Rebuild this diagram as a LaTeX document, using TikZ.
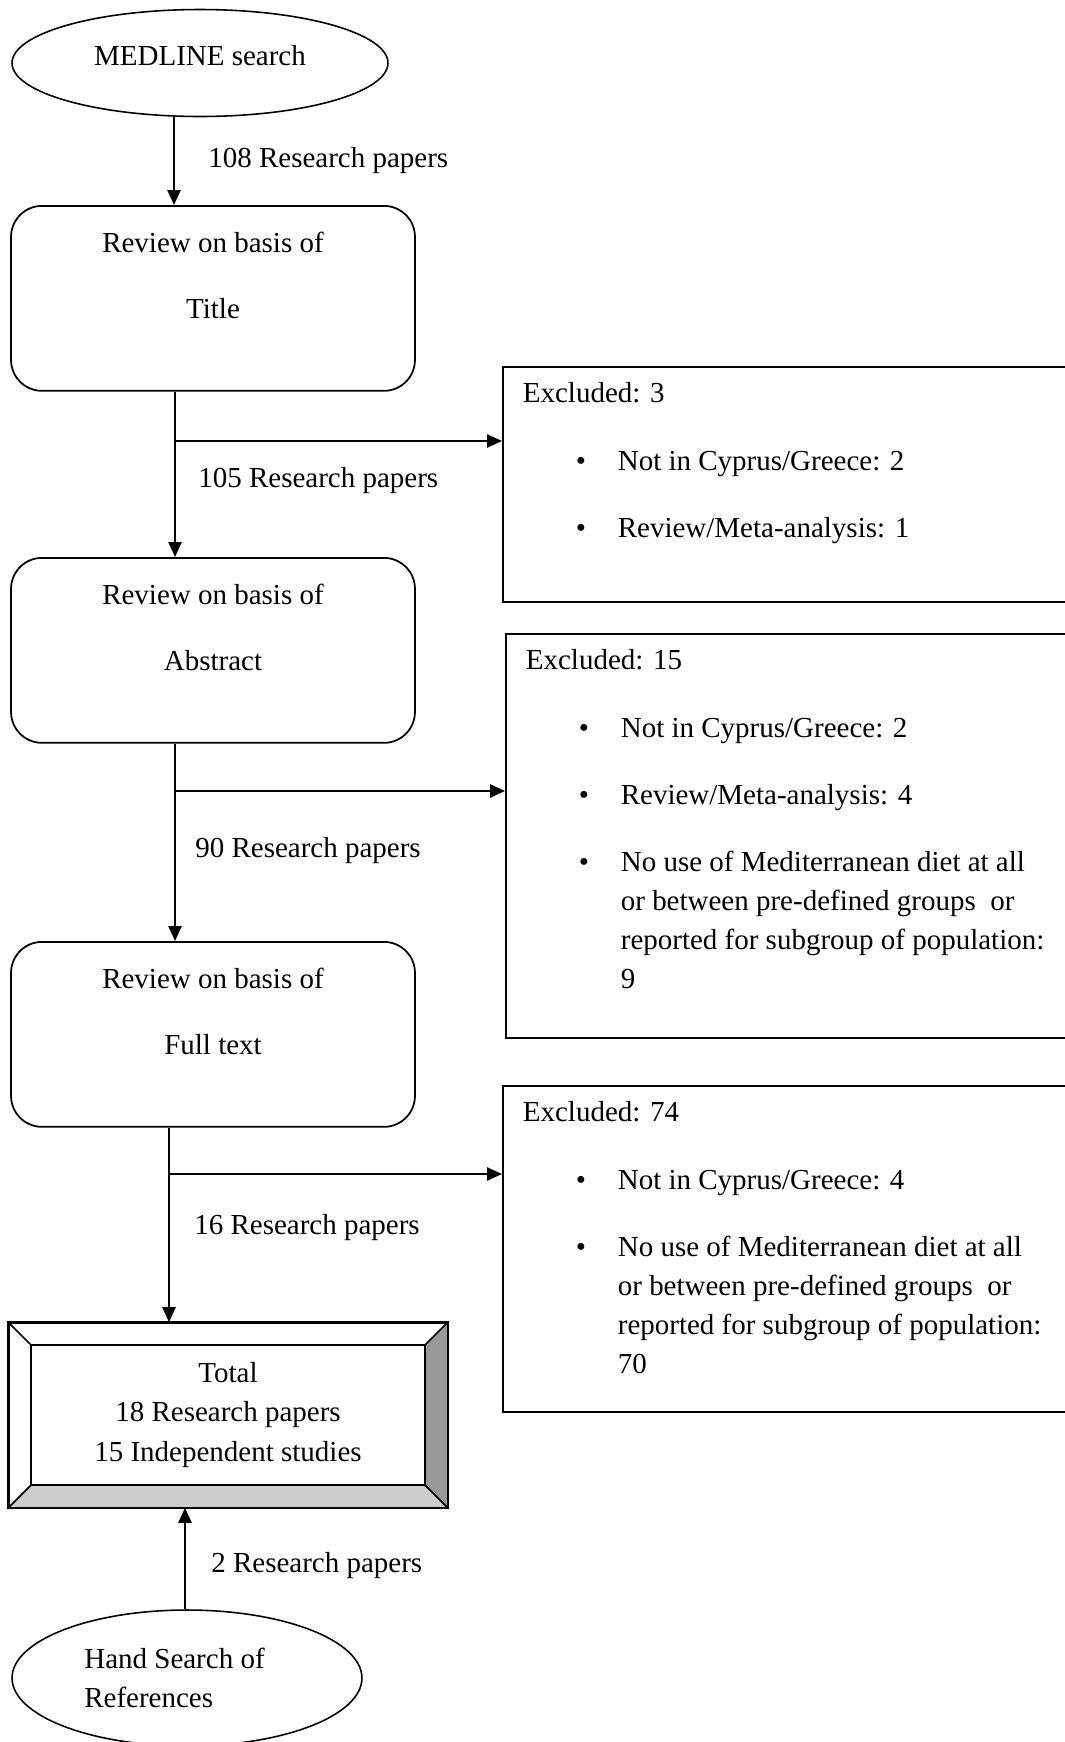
\documentclass[tikz,border=0pt]{standalone}
\usepackage{fontspec}
\setmainfont{Liberation Serif}
\usetikzlibrary{arrows.meta, shapes.geometric}

\newcommand{\exbullet}{\hspace*{1.06cm}\makebox[0.84cm][l]{\textbullet}}
\newcommand{\exindent}{\hspace*{1.9cm}}

\begin{document}
\begin{tikzpicture}[
    x=0.02cm, y=-0.02cm,  % one unit = one pixel, y runs downwards
    % Styles
    terminal/.style={draw, ellipse, line width=0.9pt, inner sep=0pt, font=\fontsize{16.5}{22.3}\selectfont},
    review/.style={draw, line width=1pt, rounded corners=0.62cm, anchor=north, text width=8.08cm, align=flush center, inner xsep=0pt, inner ysep=0pt, text height=0.94cm, text depth=2.76cm, font=\fontsize{16.5}{37.5}\selectfont},
    excluded/.style={draw, line width=1pt, anchor=north west, text width=11cm, align=flush left, inner xsep=0.4cm, inner ysep=0pt, text height=0.72cm, font=\fontsize{16.5}{22.3}\selectfont},
    totalbox/.style={draw, line width=1pt, minimum width=8.76cm, minimum height=3.68cm, align=flush center, font=\fontsize{16.5}{22.3}\selectfont},
    arrow/.style={-{Triangle[length=8.5pt, width=7.5pt]}, line width=1pt},
    count/.style={anchor=west, inner sep=0pt, font=\fontsize{16.5}{20}\selectfont},
]
\useasboundingbox (0,0) rectangle (1065,1742);

% Searches
\node[terminal, minimum width=7.52cm, minimum height=2.14cm, text depth=9pt] (medline) at (200,63) {MEDLINE search};
\node[terminal, minimum width=7cm, minimum height=2.72cm, align=flush left] (hand) at (187,1678) {Hand Search of\hspace*{0.5cm}\\References};

% Review stages
\node[review] (title) at (213,205) {Review on basis of\\Title};
\node[review] (abstract) at (213,557) {Review on basis of\\Abstract};
\node[review] (fullrev) at (213,941) {Review on basis of\\Full text};

% Exclusions
\node[excluded, text depth=3.98cm] (excl1) at (502,366) {Excluded: 3\\[0.56cm]
    \exbullet Not in Cyprus/Greece: 2\\[0.56cm]
    \exbullet Review/Meta-analysis: 1};
\node[excluded, text depth=7.36cm] (excl2) at (505,633) {Excluded: 15\\[0.56cm]
    \exbullet Not in Cyprus/Greece: 2\\[0.56cm]
    \exbullet Review/Meta-analysis: 4\\[0.56cm]
    \exbullet No use of Mediterranean diet at all\\
    \exindent or between pre-defined groups\ \ or\\
    \exindent reported for subgroup of population:\\
    \exindent 9};
\node[excluded, text depth=5.8cm] (excl3) at (502,1085) {Excluded: 74\\[0.56cm]
    \exbullet Not in Cyprus/Greece: 4\\[0.56cm]
    \exbullet No use of Mediterranean diet at all\\
    \exindent or between pre-defined groups\ \ or\\
    \exindent reported for subgroup of population:\\
    \exindent 70};

% Total (bevelled box)
\node[totalbox] (total) at (228,1415) {Total\\18 Research papers\\15 Independent studies};
\path (total.north west) ++(0.46cm,-0.46cm) coordinate (inner-nw);
\path (total.south east) ++(-0.46cm,0.46cm) coordinate (inner-se);
\fill[black!40] (total.north east) -- (total.south east) -- (inner-se) -- (inner-se |- inner-nw) -- cycle;
\fill[black!20] (total.south west) -- (total.south east) -- (inner-se) -- (inner-nw |- inner-se) -- cycle;
\draw[line width=1pt] (total.north west) rectangle (total.south east);
\draw[line width=1pt] (inner-nw) rectangle (inner-se);
\draw[line width=1pt] (total.north west) -- (inner-nw) (total.north east) -- (inner-se |- inner-nw)
    (total.south east) -- (inner-se) (total.south west) -- (inner-nw |- inner-se);

% Connectors
\coordinate (trunk0) at (174,0);
\draw[arrow] (medline.south -| trunk0) -- (title.north -| trunk0);

\coordinate (fork1) at (175,441);
\draw[arrow] (title.south -| fork1) -- (abstract.north -| fork1);
\draw[arrow] (fork1) -- (excl1.west |- fork1);

\coordinate (fork2) at (175,791);
\draw[arrow] (abstract.south -| fork2) -- (fullrev.north -| fork2);
\draw[arrow] (fork2) -- (excl2.west |- fork2);

\coordinate (fork3) at (169,1174);
\draw[arrow] (fullrev.south -| fork3) -- (total.north -| fork3);
\draw[arrow] (fork3) -- (excl3.west |- fork3);

\coordinate (trunk4) at (185,0);
\draw[arrow] (hand.north -| trunk4) -- (total.south -| trunk4);

% Counts
\node[count] (n108) at (208,161) {108 Research papers};
\node[count] (n105) at (198,481) {105 Research papers};
\node[count] (n90) at (195,851) {90 Research papers};
\node[count] (n16) at (194,1228) {16 Research papers};
\node[count] (n2) at (211,1566) {2 Research papers};

\end{tikzpicture}
\end{document}
